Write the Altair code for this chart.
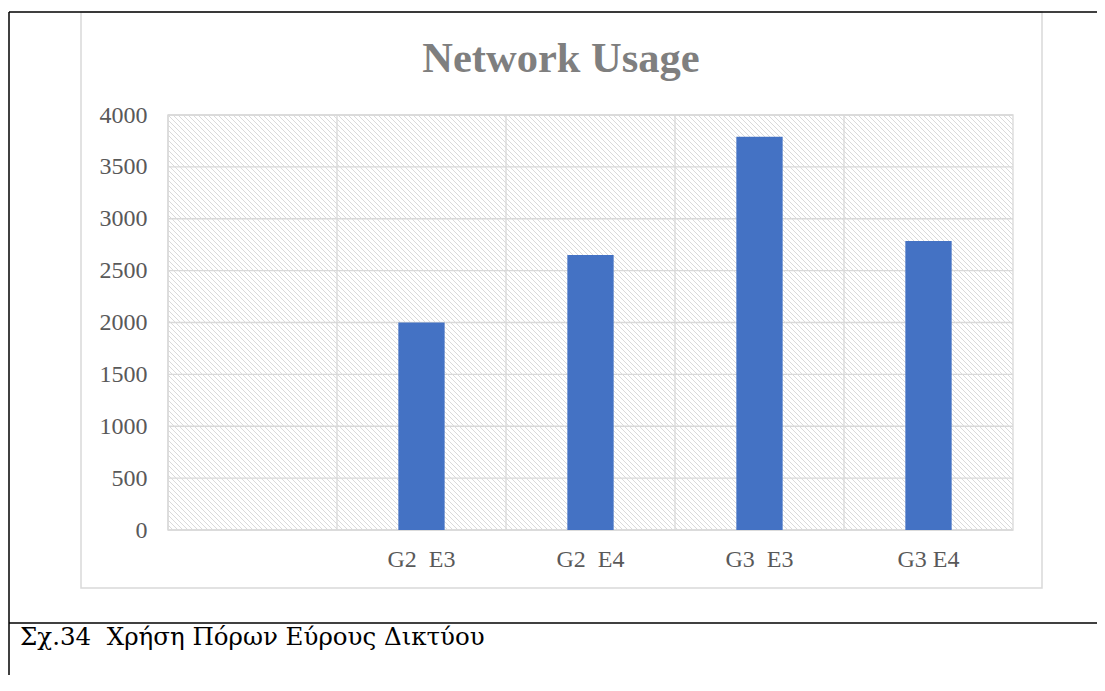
import altair as alt
import pandas as pd

# ---------------- data ----------------
TITLE = "Network Usage"
CAPTION = "Σχ.34\u00a0 Χρήση Πόρων Εύρους Δικτύου"
categories = ["", "G2  E3", "G2  E4", "G3  E3", "G3 E4"]
values = [None, 2000, 2650, 3790, 2785]
y_ticks = [0, 500, 1000, 1500, 2000, 2500, 3000, 3500, 4000]

# ---------------- style ----------------
W, H = 845, 415
PAD = {"left": 160, "top": 107, "right": 84, "bottom": 145}
RIGHT_EDGE = W + PAD["right"]
BOTTOM_EDGE = H + PAD["bottom"]
BAR = "#4472C4"
GRID = "#d9d9d9"
HATCH = "#dadada"
LABEL = "#595959"
FONT = "Liberation Serif"
HATCH_STEP = 5

df = pd.DataFrame({"cat": categories, "val": values})
bars_df = df.dropna()
ticks_df = pd.DataFrame({"tick": y_ticks})
one = pd.DataFrame({"t": [TITLE]})
cap = pd.DataFrame({"t": [CAPTION]})

# decorative diagonal hatch of the plot area (pixel space, clipped to the plot)
offs = list(range(-H, W + 1, HATCH_STEP))
hatch_df = pd.DataFrame({"x0": offs, "y0": [0] * len(offs),
                         "x1": [o + H for o in offs], "y1": [H] * len(offs)})

xscale = alt.Scale(type="band", domain=categories, paddingInner=0, paddingOuter=0)
yscale = alt.Scale(domain=[0, 4000], nice=False)

xaxis = alt.Axis(title=None, labelFont=FONT, labelFontSize=24, labelColor=LABEL,
                 labelPadding=17, ticks=False, tickSize=0, domain=False, grid=False,
                 labelAngle=0,
                 labelExpr="replace(datum.label, regexp(' ', 'g'), '\u00a0')")
yaxis = alt.Axis(title=None, values=y_ticks, labelFont=FONT, labelFontSize=24,
                 labelColor=LABEL, labelPadding=21, ticks=False, tickSize=0,
                 domain=False, grid=False, format="d")

# ---------------- layers ----------------
chart_border = alt.Chart(one).mark_rect(fill="white", fillOpacity=0, stroke=GRID,
                                        strokeWidth=1.5).encode(
    x=alt.value(-87), x2=alt.value(874), y=alt.value(-103), y2=alt.value(473))

frame_top = alt.Chart(one).mark_rule(color="black", strokeWidth=1.5).encode(
    x=alt.value(-159), x2=alt.value(RIGHT_EDGE), y=alt.value(-103))
frame_left = alt.Chart(one).mark_rule(color="black", strokeWidth=1.5).encode(
    x=alt.value(-159), y=alt.value(-103), y2=alt.value(BOTTOM_EDGE))
frame_mid = alt.Chart(one).mark_rule(color="black", strokeWidth=1.5).encode(
    x=alt.value(-159), x2=alt.value(RIGHT_EDGE), y=alt.value(508))

hatch = alt.Chart(hatch_df).mark_rule(color=HATCH, strokeWidth=1, clip=True).encode(
    x=alt.X("x0:Q", scale=None, axis=None), y=alt.Y("y0:Q", scale=None, axis=None),
    x2="x1:Q", y2="y1:Q")

vgrid = alt.Chart(df).mark_rule(color=GRID, strokeWidth=1.3).encode(
    x=alt.X("cat:N", bandPosition=0, scale=xscale, axis=xaxis))

hgrid = alt.Chart(ticks_df).mark_rule(color=GRID, strokeWidth=1.3).encode(
    y=alt.Y("tick:Q", scale=yscale, axis=yaxis))

plot_border = alt.Chart(one).mark_rect(fill="white", fillOpacity=0, stroke=GRID,
                                       strokeWidth=1.3).encode(
    x=alt.value(0), x2=alt.value(W), y=alt.value(0), y2=alt.value(H))

bars = alt.Chart(bars_df).mark_bar(color=BAR, width=alt.RelativeBandSize(0.274)).encode(
    x=alt.X("cat:N", scale=xscale, axis=xaxis),
    y=alt.Y("val:Q", scale=yscale, axis=yaxis))

title = alt.Chart(one).mark_text(font=FONT, fontSize=42.5, fontWeight="bold", color="#7f7f7f",
                                 align="center", baseline="alphabetic").encode(
    text="t:N", x=alt.value(393), y=alt.value(-43))

caption = alt.Chart(cap).mark_text(font="DejaVu Serif", fontSize=24.5, color="black",
                                   align="left", baseline="alphabetic").encode(
    text="t:N", x=alt.value(-148), y=alt.value(530))

chart = alt.layer(chart_border, frame_top, frame_left, frame_mid, hatch, vgrid, hgrid,
                  plot_border, bars, title, caption).properties(
    width=W, height=H,
    padding=PAD,
    autosize=alt.AutoSizeParams(type="none"),
    background="white",
).configure_view(stroke=None)

chart.save("out.html", embed_options={"renderer": "svg", "actions": False})
